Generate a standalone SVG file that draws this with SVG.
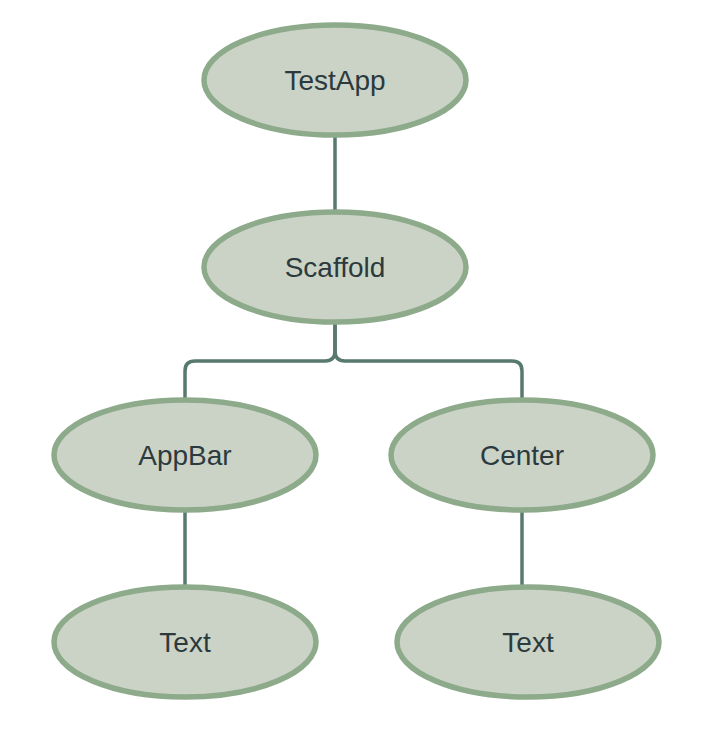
<svg xmlns="http://www.w3.org/2000/svg" width="701" height="731" viewBox="0 0 701 731">
<style>
.node ellipse{fill:#cbd3c6;stroke:#8daa8b;stroke-width:5.5}
.node text{font-family:"Liberation Sans",Arial,sans-serif;font-size:28px;fill:#2c3a3e;text-anchor:middle;dominant-baseline:central}
.conn path{fill:none;stroke:#587a6e;stroke-width:3.5}
</style>
<rect width="701" height="731" fill="#ffffff"/>
<g class="conn" id="connectors">
<path d="M335 136V211"/>
<path d="M335 324V351Q335 361 325 361H195Q185 361 185 371V399"/>
<path d="M335 324V351Q335 361 345 361H512Q522 361 522 371V399"/>
<path d="M185 512V586"/>
<path d="M522 512V586"/>
</g>
<g class="node" id="testapp"><ellipse cx="335" cy="80" rx="131" ry="55"/><text x="335" y="80">TestApp</text></g>
<g class="node" id="scaffold"><ellipse cx="335" cy="267" rx="131" ry="55"/><text x="335" y="267">Scaffold</text></g>
<g class="node" id="appbar"><ellipse cx="185" cy="455" rx="131" ry="55"/><text x="185" y="455">AppBar</text></g>
<g class="node" id="center"><ellipse cx="522" cy="455" rx="131" ry="55"/><text x="522" y="455">Center</text></g>
<g class="node" id="text1"><ellipse cx="185" cy="642" rx="131" ry="55"/><text x="185" y="642">Text</text></g>
<g class="node" id="text2"><ellipse cx="528" cy="642" rx="131" ry="55"/><text x="528" y="642">Text</text></g>
</svg>
